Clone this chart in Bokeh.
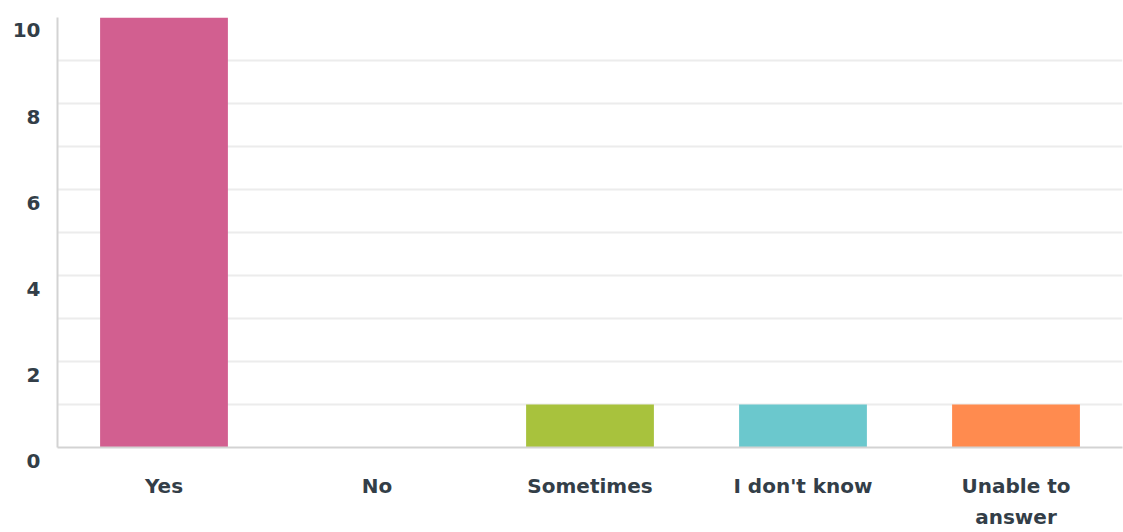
from bokeh.plotting import figure
from bokeh.models import ColumnDataSource, Range1d, FixedTicker
from bokeh.embed import file_html
from bokeh.resources import INLINE

categories = ["Yes", "No", "Sometimes", "I don't know", "Unable to\nanswer"]
counts = [10, 0, 1, 1, 1]
colors = ["#D25F90", "#D25F90", "#A8C23D", "#6BC8CD", "#FF8B4F"]
y_ticks = [0, 2, 4, 6, 8, 10]
grid_ticks = [1, 2, 3, 4, 5, 6, 7, 8, 9]

FONT = "DejaVu Sans"
TEXT = "#333E48"

src = ColumnDataSource(dict(cat=categories, val=counts, color=colors))

p = figure(x_range=categories, y_range=Range1d(0, 10),
           width=1123, height=532, output_backend="svg",
           toolbar_location=None, tools="",
           min_border_left=57, min_border_right=1,
           min_border_top=17, min_border_bottom=85)
p.outline_line_color = None
p.background_fill_color = "white"
p.border_fill_color = "white"

p.vbar(x="cat", top="val", width=0.6, color="color", source=src, line_color=None)

# y axis: labels sit a little below their tick, as in the reference
# (leading empty lines push each label down; the top one is kept inside the canvas)
p.yaxis.ticker = FixedTicker(ticks=y_ticks)
p.yaxis.major_label_overrides = {t: ("\n\n" if t == y_ticks[-1] else "\n\n\n") + str(t)
                                 for t in y_ticks}
p.yaxis.major_label_text_line_height = 0.37
p.yaxis.major_label_text_font = FONT
p.yaxis.major_label_text_font_style = "bold"
p.yaxis.major_label_text_font_size = "20px"
p.yaxis.major_label_text_color = TEXT
p.yaxis.major_label_standoff = 17
p.yaxis.major_tick_out = 0
p.yaxis.major_tick_in = 0
p.yaxis.major_tick_line_color = None
p.yaxis.minor_tick_line_color = None
p.yaxis.axis_line_color = "#D3D3D3"
p.yaxis.axis_line_width = 2

p.ygrid.ticker = FixedTicker(ticks=grid_ticks)
p.ygrid.grid_line_color = "#ECECEC"
p.ygrid.grid_line_width = 2
p.xgrid.grid_line_color = None

p.xaxis.axis_line_color = "#D3D3D3"
p.xaxis.axis_line_width = 2
p.xaxis.major_tick_out = 0
p.xaxis.major_tick_in = 0
p.xaxis.major_tick_line_color = None
p.xaxis.minor_tick_line_color = None
p.xaxis.major_label_standoff = 26
p.xaxis.major_label_text_line_height = 1.33
p.xaxis.major_label_text_font = FONT
p.xaxis.major_label_text_font_style = "bold"
p.xaxis.major_label_text_font_size = "20px"
p.xaxis.major_label_text_color = TEXT

open("out.html", "w").write(file_html(p, INLINE))
